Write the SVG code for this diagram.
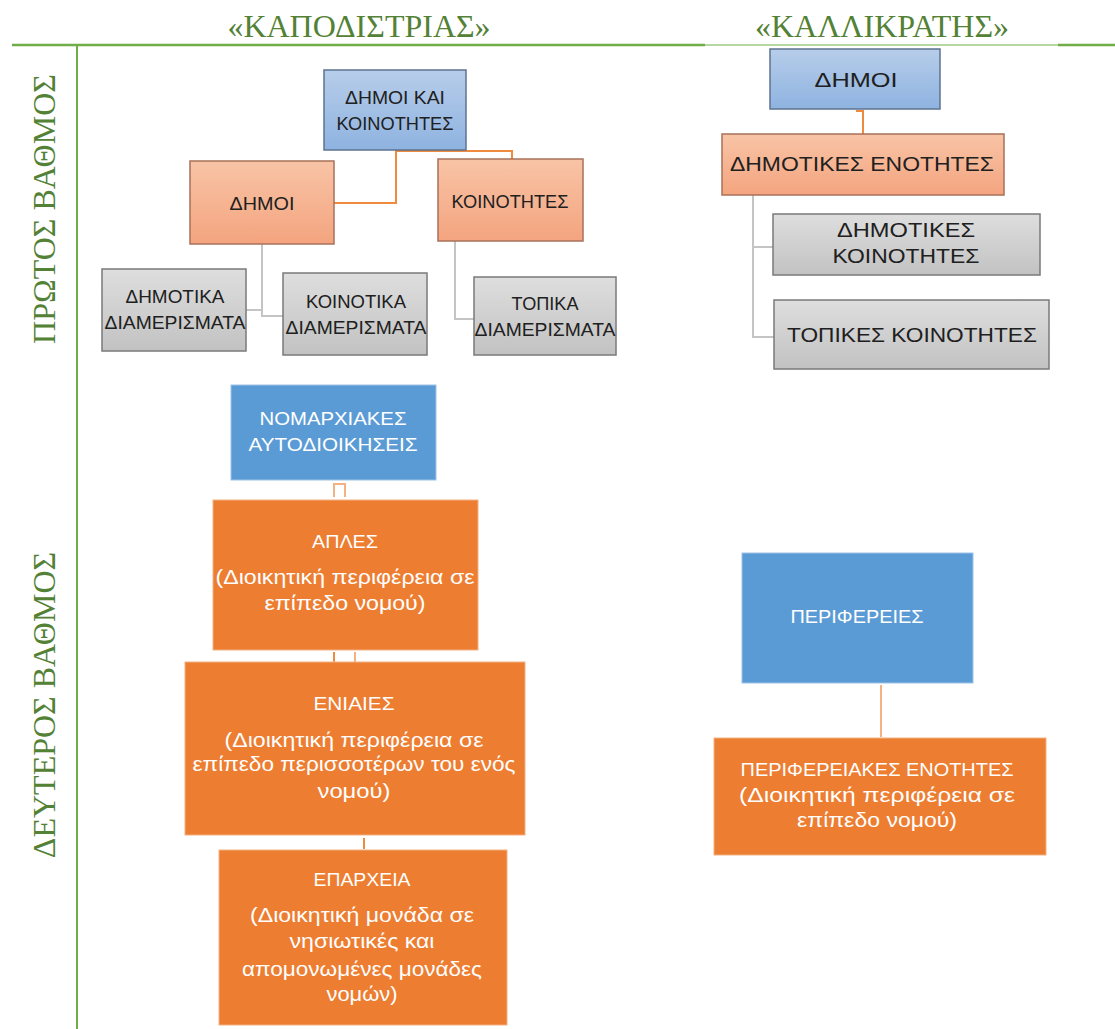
<svg xmlns="http://www.w3.org/2000/svg" width="1115" height="1029" viewBox="0 0 1115 1029">
<style>
.title{font-family:"Liberation Serif",serif;font-size:32px;fill:#538135;text-anchor:middle}
.t{font-family:"Liberation Sans",Arial,sans-serif;text-anchor:middle}
.dk{fill:#202020}
.wh{fill:#FFFFFF}
.blueG{fill:url(#gBlue);stroke:#5E7391;stroke-width:1.5}
.orG{fill:url(#gOr);stroke:#A8705A;stroke-width:1.5}
.grG{fill:url(#gGrey);stroke:#7A7A7A;stroke-width:1.5}
.blueS{fill:#5B9BD5;stroke:#9DC3E6;stroke-width:1}
.orS{fill:#ED7D31;stroke:#F4B183;stroke-width:1}
.cOr{fill:none;stroke:#F08A3E;stroke-width:2}
.cOrL{fill:none;stroke:#F4B183;stroke-width:2}
.cGr{fill:none;stroke:#C4C4C4;stroke-width:2}
</style>
<defs>
<linearGradient id="gBlue" x1="0" y1="0" x2="0" y2="1"><stop offset="0" stop-color="#B7CDEA"/><stop offset="1" stop-color="#8EB3E0"/></linearGradient>
<linearGradient id="gOr" x1="0" y1="0" x2="0" y2="1"><stop offset="0" stop-color="#F8C4A6"/><stop offset="1" stop-color="#F4A47F"/></linearGradient>
<linearGradient id="gGrey" x1="0" y1="0" x2="0" y2="1"><stop offset="0" stop-color="#DEDEDE"/><stop offset="1" stop-color="#C2C2C2"/></linearGradient>
</defs>
<rect width="1115" height="1029" fill="#FFFFFF"/>

<g id="frame">
<line x1="12" y1="45" x2="705" y2="45" stroke="#70AD47" stroke-width="2.5"/>
<line x1="705" y1="45" x2="1058" y2="45" stroke="#70AD47" stroke-width="1.2"/>
<line x1="1058" y1="45" x2="1115" y2="45" stroke="#70AD47" stroke-width="2.5"/>
<line x1="77" y1="45" x2="77" y2="1029" stroke="#70AD47" stroke-width="2"/>
<text class="title" x="359" y="37">«ΚΑΠΟΔΙΣΤΡΙΑΣ»</text>
<text class="title" x="882" y="37">«ΚΑΛΛΙΚΡΑΤΗΣ»</text>
<text class="title" transform="translate(55,209) rotate(-90)">ΠΡΩΤΟΣ ΒΑΘΜΟΣ</text>
<text class="title" transform="translate(55,705) rotate(-90)">ΔΕΥΤΕΡΟΣ ΒΑΘΜΟΣ</text>
</g>

<g id="connectors">
<path class="cOr" d="M334,203 H396 V151 H512 V159"/>
<path class="cGr" d="M262,244 V316 H283 M262,310 H246"/>
<path class="cGr" d="M455,241 V319 H474"/>
<path class="cOr" d="M856,111 H863 V134"/>
<path class="cGr" d="M753,195 V337 H774 M753,247 H773"/>
<path class="cOrL" d="M334,497 V484 H345 V497"/>
<path class="cOr" d="M334,652 V662"/>
<path class="cOrL" d="M355,652 V662"/>
<path class="cOr" d="M364,838 V849"/>
<path class="cOrL" d="M881,685 V737"/>
</g>

<g id="n_dimoi_koinotites">
<rect class="blueG" x="324" y="70" width="142" height="80"/>
<text class="t dk" font-size="19" x="395" y="104" textLength="100" lengthAdjust="spacingAndGlyphs">ΔΗΜΟΙ ΚΑΙ</text>
<text class="t dk" font-size="19" x="395" y="130" textLength="117" lengthAdjust="spacingAndGlyphs">ΚΟΙΝΟΤΗΤΕΣ</text>
</g>
<g id="n_dimoi_k">
<rect class="orG" x="190" y="161" width="144" height="83"/>
<text class="t dk" font-size="19" x="262" y="210" textLength="65" lengthAdjust="spacingAndGlyphs">ΔΗΜΟΙ</text>
</g>
<g id="n_koinotites_k">
<rect class="orG" x="438" y="159" width="145" height="82"/>
<text class="t dk" font-size="19" x="510" y="208" textLength="117" lengthAdjust="spacingAndGlyphs">ΚΟΙΝΟΤΗΤΕΣ</text>
</g>
<g id="n_dimotika">
<rect class="grG" x="102" y="269" width="144" height="82"/>
<text class="t dk" font-size="19" x="175" y="303" textLength="99" lengthAdjust="spacingAndGlyphs">ΔΗΜΟΤΙΚΑ</text>
<text class="t dk" font-size="19" x="175" y="329" textLength="141" lengthAdjust="spacingAndGlyphs">ΔΙΑΜΕΡΙΣΜΑΤΑ</text>
</g>
<g id="n_koinotika">
<rect class="grG" x="283" y="273" width="144" height="82"/>
<text class="t dk" font-size="19" x="356" y="308" textLength="100" lengthAdjust="spacingAndGlyphs">ΚΟΙΝΟΤΙΚΑ</text>
<text class="t dk" font-size="19" x="356" y="334" textLength="141" lengthAdjust="spacingAndGlyphs">ΔΙΑΜΕΡΙΣΜΑΤΑ</text>
</g>
<g id="n_topika">
<rect class="grG" x="474" y="277" width="142" height="78"/>
<text class="t dk" font-size="19" x="545" y="310" textLength="67" lengthAdjust="spacingAndGlyphs">ΤΟΠΙΚΑ</text>
<text class="t dk" font-size="19" x="545" y="336" textLength="141" lengthAdjust="spacingAndGlyphs">ΔΙΑΜΕΡΙΣΜΑΤΑ</text>
</g>

<g id="n_dimoi_kal">
<rect class="blueG" x="770" y="49" width="170" height="60"/>
<text class="t dk" font-size="21" x="856" y="87" textLength="83" lengthAdjust="spacingAndGlyphs">ΔΗΜΟΙ</text>
</g>
<g id="n_dim_enotites">
<rect class="orG" x="722" y="134" width="282" height="61"/>
<text class="t dk" font-size="21" x="862" y="171" textLength="264" lengthAdjust="spacingAndGlyphs">ΔΗΜΟΤΙΚΕΣ ΕΝΟΤΗΤΕΣ</text>
</g>
<g id="n_dim_koinotites">
<rect class="grG" x="773" y="214" width="267" height="61"/>
<text class="t dk" font-size="21" x="906" y="237" textLength="138" lengthAdjust="spacingAndGlyphs">ΔΗΜΟΤΙΚΕΣ</text>
<text class="t dk" font-size="21" x="906" y="263" textLength="147" lengthAdjust="spacingAndGlyphs">ΚΟΙΝΟΤΗΤΕΣ</text>
</g>
<g id="n_top_koinotites">
<rect class="grG" x="774" y="300" width="275" height="69"/>
<text class="t dk" font-size="21" x="912" y="342" textLength="250" lengthAdjust="spacingAndGlyphs">ΤΟΠΙΚΕΣ ΚΟΙΝΟΤΗΤΕΣ</text>
</g>

<g id="n_nomarxiakes">
<rect class="blueS" x="231" y="385" width="205" height="95"/>
<text class="t wh" font-size="19" x="333" y="425" textLength="147" lengthAdjust="spacingAndGlyphs">ΝΟΜΑΡΧΙΑΚΕΣ</text>
<text class="t wh" font-size="19" x="333" y="451" textLength="169" lengthAdjust="spacingAndGlyphs">ΑΥΤΟΔΙΟΙΚΗΣΕΙΣ</text>
</g>
<g id="n_aples">
<rect class="orS" x="213" y="500" width="265" height="150"/>
<text class="t wh" font-size="19" x="345" y="548" textLength="66" lengthAdjust="spacingAndGlyphs">ΑΠΛΕΣ</text>
<text class="t wh" font-size="20" x="345" y="584" textLength="259" lengthAdjust="spacingAndGlyphs">(Διοικητική περιφέρεια σε</text>
<text class="t wh" font-size="20" x="345" y="610" textLength="161" lengthAdjust="spacingAndGlyphs">επίπεδο νομού)</text>
</g>
<g id="n_eniaies">
<rect class="orS" x="185" y="662" width="340" height="173"/>
<text class="t wh" font-size="19" x="354" y="710" textLength="81" lengthAdjust="spacingAndGlyphs">ΕΝΙΑΙΕΣ</text>
<text class="t wh" font-size="20" x="354" y="747" textLength="259" lengthAdjust="spacingAndGlyphs">(Διοικητική περιφέρεια σε</text>
<text class="t wh" font-size="20" x="354" y="771" textLength="323" lengthAdjust="spacingAndGlyphs">επίπεδο περισσοτέρων του ενός</text>
<text class="t wh" font-size="20" x="354" y="798" textLength="73" lengthAdjust="spacingAndGlyphs">νομού)</text>
</g>
<g id="n_eparxeia">
<rect class="orS" x="219" y="850" width="288" height="175"/>
<text class="t wh" font-size="19" x="362" y="886" textLength="97" lengthAdjust="spacingAndGlyphs">ΕΠΑΡΧΕΙΑ</text>
<text class="t wh" font-size="20" x="362" y="922" textLength="224" lengthAdjust="spacingAndGlyphs">(Διοικητική μονάδα σε</text>
<text class="t wh" font-size="20" x="362" y="948" textLength="145" lengthAdjust="spacingAndGlyphs">νησιωτικές και</text>
<text class="t wh" font-size="20" x="362" y="976" textLength="240" lengthAdjust="spacingAndGlyphs">απομονωμένες μονάδες</text>
<text class="t wh" font-size="20" x="362" y="1001" textLength="71" lengthAdjust="spacingAndGlyphs">νομών)</text>
</g>

<g id="n_perifereies">
<rect class="blueS" x="742" y="553" width="231" height="130"/>
<text class="t wh" font-size="19" x="857" y="623" textLength="133" lengthAdjust="spacingAndGlyphs">ΠΕΡΙΦΕΡΕΙΕΣ</text>
</g>
<g id="n_perif_enotites">
<rect class="orS" x="714" y="738" width="332" height="117"/>
<text class="t wh" font-size="19" x="877" y="776" textLength="273" lengthAdjust="spacingAndGlyphs">ΠΕΡΙΦΕΡΕΙΑΚΕΣ ΕΝΟΤΗΤΕΣ</text>
<text class="t wh" font-size="20" x="877" y="802" textLength="276" lengthAdjust="spacingAndGlyphs">(Διοικητική περιφέρεια σε</text>
<text class="t wh" font-size="20" x="877" y="827" textLength="160" lengthAdjust="spacingAndGlyphs">επίπεδο νομού)</text>
</g>
</svg>
